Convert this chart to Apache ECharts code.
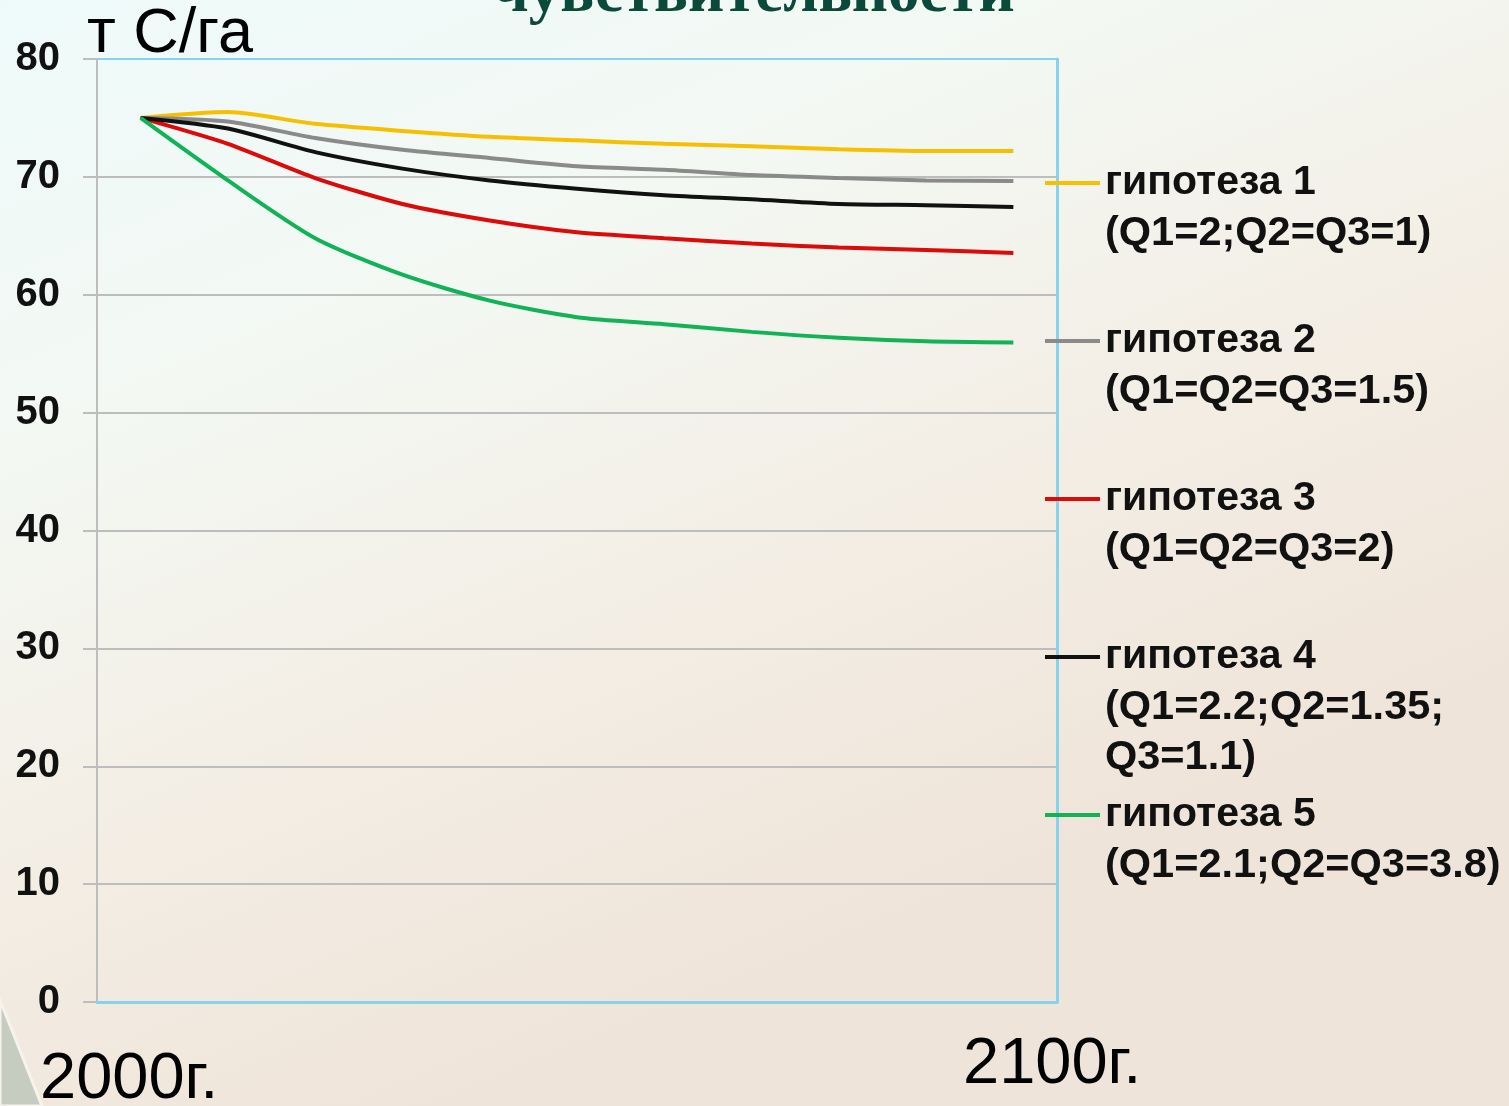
<!DOCTYPE html>
<html>
<head>
<meta charset="utf-8">
<script src="https://cdn.jsdelivr.net/npm/echarts@6/dist/echarts.min.js"></script>
<style>
  html, body { margin: 0; padding: 0; }
  #main { width: 1509px; height: 1106px; }
</style>
</head>
<body>
<div id="main"></div>
<script>
// years on the x axis (only first and last are labelled on the slide)
var years = ['2000', '2010', '2020', '2030', '2040', '2050', '2060', '2070', '2080', '2090', '2100'];
var yearLabels = ['2000г.', '2100г.'];
var yTicks = [0, 80, 10];   // min, max, step

var names = ['гипотеза 1', 'гипотеза 2', 'гипотеза 3', 'гипотеза 4', 'гипотеза 5'];
var params = [
    ['(Q1=2;Q2=Q3=1)'],
    ['(Q1=Q2=Q3=1.5)'],
    ['(Q1=Q2=Q3=2)'],
    ['(Q1=2.2;Q2=1.35;', 'Q3=1.1)'],
    ['(Q1=2.1;Q2=Q3=3.8)']
];

// т С/га
var hyp1 = [75, 75.5, 74.5, 73.9, 73.4, 73.1, 72.8, 72.6, 72.35, 72.2, 72.2];
var hyp2 = [75, 74.7, 73.3, 72.3, 71.6, 70.9, 70.6, 70.15, 69.9, 69.7, 69.65];
var hyp3 = [75, 72.8, 69.9, 67.7, 66.3, 65.3, 64.8, 64.35, 64.0, 63.8, 63.55];
var hyp4 = [75, 74.1, 72.1, 70.7, 69.7, 69.0, 68.45, 68.1, 67.7, 67.6, 67.45];
var hyp5 = [75, 69.7, 64.8, 61.7, 59.5, 58.1, 57.5, 56.85, 56.35, 56.05, 55.95];

var colors = ['#f6c000', '#8a8a8a', '#dd0a0a', '#111111', '#12b257'];
var blue = '#86d3ef';
var gray = '#bdbdbd';
var legendY = [183, 341, 499, 657, 815];

var chart = echarts.init(document.getElementById('main'));

// extra text lines under each legend entry
var paramGraphics = [];
params.forEach(function (lines, i) {
    lines.forEach(function (t, j) {
        paramGraphics.push({
            type: 'text',
            x: 1105,
            y: legendY[i] + 51 + j * 50,
            style: {
                text: t,
                font: 'bold 41.5px "Liberation Sans", Arial, sans-serif',
                fill: '#111',
                align: 'left',
                verticalAlign: 'middle'
            }
        });
    });
});

function line(name, data, color) {
    return {
        name: name,
        type: 'line',
        data: data,
        smooth: 0.25,
        symbol: 'none',
        color: color,
        lineStyle: { width: 4, color: color }
    };
}

// split lines gray, top (80) one blue like the frame
var splitColors = [];
for (var v = yTicks[0]; v <= yTicks[1]; v += yTicks[2]) {
    splitColors.push(v === yTicks[1] || v === yTicks[0] ? blue : gray);
}

var option = {
    backgroundColor: {
        type: 'linear', x: 0, y: 0, x2: 0.3, y2: 1,
        colorStops: [
            { offset: 0, color: '#eefafa' },
            { offset: 0.35, color: '#f3f8f3' },
            { offset: 0.7, color: '#f3ede4' },
            { offset: 1, color: '#efe4d9' }
        ]
    },
    animation: false,
    grid: { left: 97, right: 452, top: 59, bottom: 104, containLabel: false },
    legend: {
        orient: 'vertical',
        left: 1040,
        top: 153,
        itemGap: 108,
        itemWidth: 55,
        itemHeight: 4,
        icon: 'rect',
        data: names,
        textStyle: {
            fontSize: 41,
            fontWeight: 'bold',
            fontFamily: '"Liberation Sans", Arial, sans-serif',
            color: '#111',
            lineHeight: 50
        }
    },
    xAxis: {
        type: 'category',
        data: years,
        boundaryGap: true,
        axisLine: { lineStyle: { color: blue, width: 3 } },
        axisTick: { show: false },
        axisLabel: { show: false },
        z: 3
    },
    yAxis: [{
        type: 'value',
        min: yTicks[0],
        max: yTicks[1],
        interval: yTicks[2],
        axisLine: { show: true, lineStyle: { color: gray, width: 2 } },
        axisTick: { show: true, length: 14, lineStyle: { color: gray, width: 2 } },
        splitLine: { lineStyle: { color: splitColors, width: 2 } },
        axisLabel: {
            margin: 37,
            fontSize: 40,
            fontWeight: 'bold',
            fontFamily: '"Liberation Sans", Arial, sans-serif',
            color: '#111'
        }
    }, {
        type: 'value',
        position: 'right',
        min: yTicks[0],
        max: yTicks[1],
        interval: yTicks[2],
        axisLine: { show: true, lineStyle: { color: blue, width: 3 } },
        axisTick: { show: false },
        splitLine: { show: false },
        axisLabel: { show: false },
        z: 3
    }],
    graphic: [{
        type: 'polygon',
        shape: { points: [[0, 1000], [42, 1106], [0, 1106]] },
        style: { fill: '#c6ccc0', stroke: '#f6f3ec', lineWidth: 3 },
        z: -1
    }, {
        type: 'text',
        x: 754,
        y: -5,
        style: {
            text: 'чувствительности',
            font: 'bold 63px "Liberation Serif", "Times New Roman", serif',
            fill: '#0b4a3a',
            align: 'center',
            verticalAlign: 'middle'
        }
    }, {
        type: 'text',
        x: 87,
        y: 35,
        style: {
            text: 'т С/га',
            font: '63px "Liberation Sans", Arial, sans-serif',
            fill: '#000',
            align: 'left',
            verticalAlign: 'middle'
        }
    }, {
        type: 'text',
        x: 40,
        y: 1080,
        style: {
            text: yearLabels[0],
            font: '65px "Liberation Sans", Arial, sans-serif',
            fill: '#000',
            align: 'left',
            verticalAlign: 'middle'
        }
    }, {
        type: 'text',
        x: 963,
        y: 1065,
        style: {
            text: yearLabels[1],
            font: '65px "Liberation Sans", Arial, sans-serif',
            fill: '#000',
            align: 'left',
            verticalAlign: 'middle'
        }
    }].concat(paramGraphics),
    series: [
        line(names[0], hyp1, colors[0]),
        line(names[1], hyp2, colors[1]),
        line(names[2], hyp3, colors[2]),
        line(names[3], hyp4, colors[3]),
        line(names[4], hyp5, colors[4])
    ]
};

chart.setOption(option);
</script>
</body>
</html>
